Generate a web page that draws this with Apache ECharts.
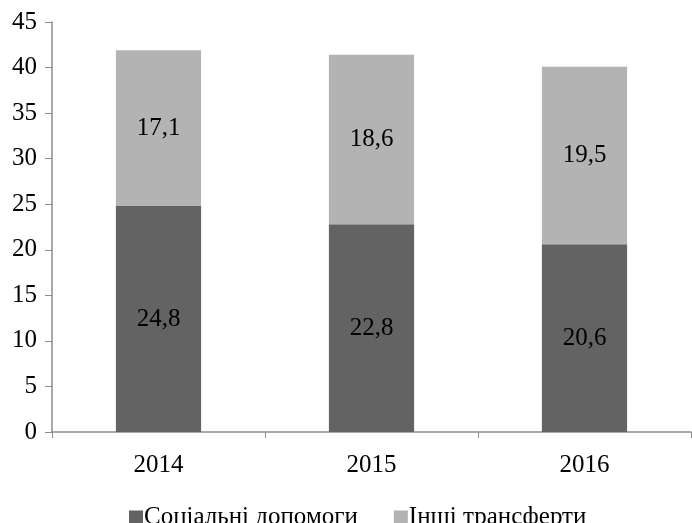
<!DOCTYPE html>
<html>
<head>
<meta charset="utf-8">
<script src="https://cdn.jsdelivr.net/npm/echarts@6/dist/echarts.min.js"></script>
<style>
  html, body { margin: 0; padding: 0; background: #fff; }
  #chart { width: 692px; height: 523px; }
</style>
</head>
<body>
<div id="chart"></div>
<script>
const years = ['2014', '2015', '2016']
const socialAid = [24.8, 22.8, 20.6]
const otherTransfers = [17.1, 18.6, 19.5]
const yTicks = [0, 5, 10, 15, 20, 25, 30, 35, 40, 45]

const font = '"Liberation Serif", "Times New Roman", serif'
const axisColor = '#8c8c8c'
const fs = 25

function fmt(v) {
  return String(v).replace('.', ',')
}

function makeSeries(name, data, color) {
  return {
    name: name,
    type: 'bar',
    stack: 'total',
    barWidth: '40%',
    itemStyle: { color: color },
    label: {
      show: true,
      position: 'inside',
      color: '#000',
      fontFamily: font,
      fontSize: fs,
      formatter: p => fmt(p.value)
    },
    data: data
  }
}

const chart = echarts.init(document.getElementById('chart'), null, { renderer: 'canvas' })
chart.setOption({
  animation: false,
  grid: { left: 52, right: 1, top: 22, bottom: 91 },
  legend: {
    bottom: -12,
    left: 124,
    itemWidth: 14,
    itemHeight: 14,
    itemGap: 36,
    icon: 'rect',
    textStyle: { fontFamily: font, fontSize: fs, color: '#000', padding: [0, 0, 0, -4] },
    data: ['Соціальні допомоги', 'Інші трансферти']
  },
  xAxis: {
    type: 'category',
    data: years,
    axisLine: { lineStyle: { color: axisColor, width: 1.5 } },
    axisTick: { show: true, length: 6, lineStyle: { color: axisColor } },
    axisLabel: { fontFamily: font, fontSize: fs, color: '#000', margin: 21 }
  },
  yAxis: {
    type: 'value',
    min: yTicks[0],
    max: yTicks[yTicks.length - 1],
    interval: 5,
    axisLine: { show: true, lineStyle: { color: axisColor, width: 1.5 } },
    axisTick: { show: true, length: 7, lineStyle: { color: axisColor } },
    axisLabel: { fontFamily: font, fontSize: fs, color: '#000', margin: 15 },
    splitLine: { show: false }
  },
  series: [
    makeSeries('Соціальні допомоги', socialAid, '#636363'),
    makeSeries('Інші трансферти', otherTransfers, '#b3b3b3')
  ]
})
</script>
</body>
</html>
